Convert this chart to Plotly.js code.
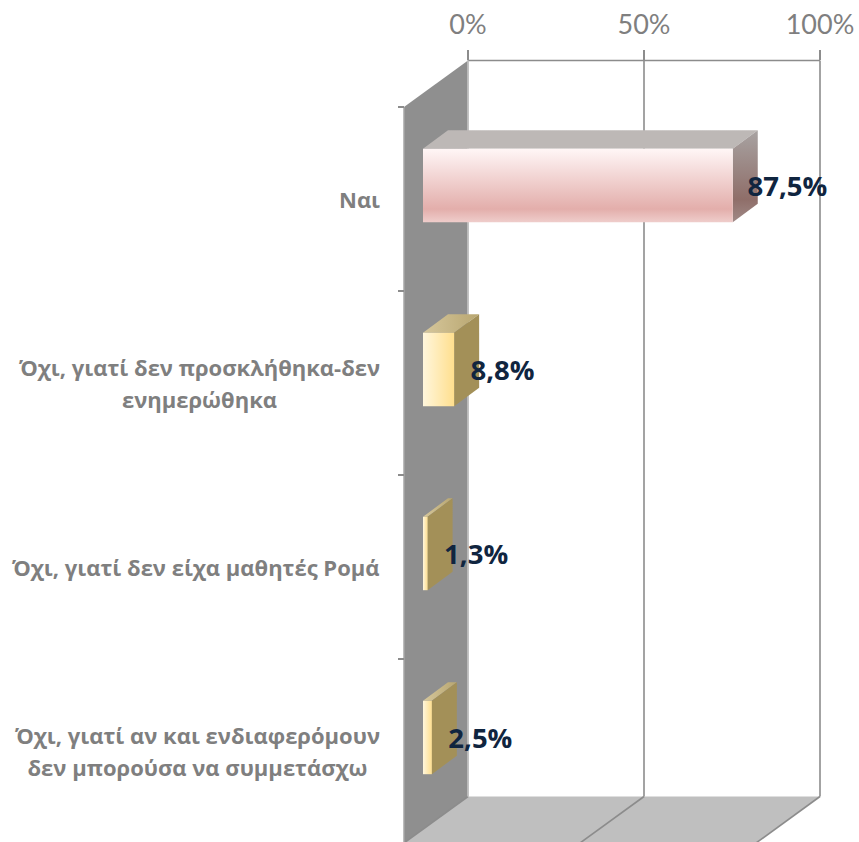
<!DOCTYPE html>
<html><head><meta charset="utf-8">
<script src="https://cdn.plot.ly/plotly-3.0.1.min.js"></script>
<style>html,body{margin:0;padding:0;background:#fff}</style></head>
<body><div id="chart" style="width:859px;height:842px"></div>
<script>
const categories = ["Ναι", "Όχι, γιατί δεν προσκλήθηκα-δεν<br>ενημερώθηκα", "Όχι, γιατί δεν είχα μαθητές Ρομά", "Όχι, γιατί αν και ενδιαφερόμουν<br>δεν μπορούσα να συμμετάσχω"];
const values = [87.5, 8.8, 1.3, 2.5];
const valueLabels = ["87,5%", "8,8%", "1,3%", "2,5%"];
const xTicks = [0, 50, 100];
const xTickLabels = ["0%", "50%", "100%"];

const W = 859, H = 842;
const PX = 3.52, PY = 184;           // pixels per % and per category
const X0 = 468, Y0 = 199;            // pixel of value 0 on back wall, of first category centre
const wallDx = -64 / PX, wallDy = 46.5 / PY;   // full chart depth
const barDx = -45 / PX, barDy = -13.5 / PY;    // front plane of a bar relative to back wall / category
const sideDx = 25 / PX, sideDy = -18.5 / PY;   // bar depth
const halfBar = 36.7 / PY;
const barScale = 3.54 / PX;                    // nearer plane draws slightly larger
const wallTop = -0.5 - wallDy, wallBot = 3.5 - wallDy; // back-wall span in category units

const traces = [];
function poly(x, y, color, grad) {
  const t = {x: x.concat(x[0]), y: y.concat(y[0]), mode: 'lines', fill: 'toself', line: {width: 0}, hoverinfo: 'skip', showlegend: false};
  if (grad) t.fillgradient = grad; else t.fillcolor = color;
  traces.push(t);
}
function line(x, y, color, w) {
  traces.push({x, y, mode: 'lines', line: {color, width: w}, hoverinfo: 'skip', showlegend: false});
}
const xMax = xTicks[xTicks.length - 1];
// floor and left wall
poly([0, xMax, xMax + wallDx, wallDx], [wallBot, wallBot, wallBot + wallDy, wallBot + wallDy], '#bfbfbf');
poly([0, 0, wallDx, wallDx], [wallTop, wallBot, wallBot + wallDy, wallTop + wallDy], '#8f8f8f');
// gridlines
xTicks.forEach(v => {
  line([v, v], [wallTop, wallBot], '#8c8c8c', 1.6);
  line([v, v + wallDx], [wallBot, wallBot + wallDy], '#8c8c8c', 1.6);
});
line([0, xMax], [wallTop, wallTop], '#8c8c8c', 1.6);
line([wallDx, wallDx], [wallTop + wallDy, wallBot + wallDy], '#a6a6a6', 1.5);
line([0, 0], [wallTop, wallBot], '#d9d9d9', 1.2);

// bars (colour stops run from larger y-value, i.e. the pixel bottom, to the pixel top)
const VSCALE = [[0, '#efcdcb'], [0.18, '#e3aeab'], [1, '#fff6f6']];
values.forEach((v, i) => {
  const pink = i === 0;
  const cy = i + barDy, t = cy - halfBar, b = cy + halfBar;
  const l = barDx, r = barDx + v * barScale;
  // top face
  poly([l, r, r + sideDx, l + sideDx], [t, t, t + sideDy, t + sideDy], null,
    pink ? {type: 'horizontal', colorscale: [[0, '#bdb8b6'], [1, '#bdb8b6']]}
         : {type: 'horizontal', colorscale: [[0, '#d6c79c'], [1, '#b8a670']]});
  // side face
  poly([r, r + sideDx, r + sideDx, r], [t, t + sideDy, b + sideDy, b], null,
    pink ? {type: 'vertical', colorscale: [[0, '#a08a87'], [0.25, '#8f6e69'], [1, '#a8a3a2']]}
         : {type: 'vertical', colorscale: [[0, '#a39058'], [1, '#a39058']]});
  // front face
  poly([l, r, r, l], [t, t, b, b], null,
    pink ? {type: 'vertical', colorscale: VSCALE}
         : {type: 'horizontal', colorscale: [[0, '#fff6dc'], [1, '#ffdf8e']]});
});
// value labels
traces.push({
  x: values.map(v => barDx + v + 4.7), y: values.map((v, i) => i - 10 / PY),
  mode: 'text', text: valueLabels, textposition: 'middle right',
  textfont: {family: '"Open Sans", sans-serif', size: 27.5, color: '#10253f', weight: 700},
  hoverinfo: 'skip', showlegend: false, cliponaxis: false
});

const annotations = categories.map((c, i) => ({
  text: '<b><span style="font-size:22px">' + c + '</span></b>',
  xref: 'paper', x: 382 / W, xanchor: 'right', yref: 'y', y: i, yanchor: 'middle', align: 'center',
  showarrow: false, font: {family: '"Open Sans", sans-serif', size: 24.6, color: '#7f7f7f'}
}));

const layout = {
  width: W, height: H, margin: {l: 0, r: 0, t: 0, b: 0}, paper_bgcolor: '#fff', plot_bgcolor: '#fff',
  showlegend: false, annotations,
  xaxis: {range: [-X0 / PX, (W - X0) / PX], side: 'top', anchor: 'free', position: 1 - 60 / H,
    tickmode: 'array', tickvals: xTicks, ticktext: xTickLabels, ticks: 'outside', ticklen: 10, tickwidth: 1.6, tickcolor: '#8c8c8c',
    ticklabelstandoff: 5,
    tickfont: {family: 'Lato, sans-serif', size: 27, color: '#7f7f7f'}, showgrid: false, zeroline: false, showline: false},
  yaxis: {range: [(H - Y0) / PY, -Y0 / PY], anchor: 'free', position: (X0 + wallDx * PX) / W,
    tickmode: 'array', tickvals: [-0.5, 0.5, 1.5, 2.5, 3.5], ticks: 'outside', ticklen: 6, tickwidth: 1.5, tickcolor: '#8c8c8c',
    showticklabels: false, showgrid: false, zeroline: false, showline: false}
};
Plotly.newPlot('chart', traces, layout, {displayModeBar: false, staticPlot: true});
</script></body></html>
